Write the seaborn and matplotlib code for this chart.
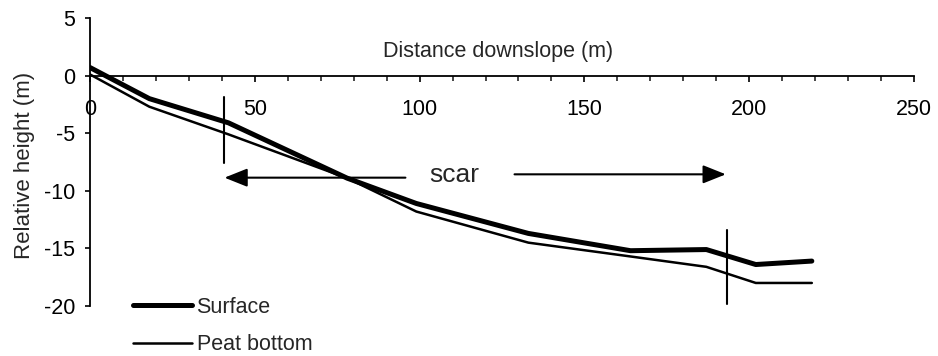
import matplotlib
matplotlib.use('Agg')
import matplotlib.pyplot as plt
import seaborn as sns
import pandas as pd
from matplotlib.ticker import MultipleLocator, FixedLocator

# ---- data ----
distance = [0, 18, 42, 78, 99, 133, 164, 187, 202, 219]
surface = [0.7, -2.0, -4.1, -8.9, -11.1, -13.7, -15.2, -15.1, -16.4, -16.1]
peat_bottom = [0.1, -2.7, -5.1, -8.9, -11.8, -14.5, -15.7, -16.6, -18.0, -18.0]
series_names = ["Surface", "Peat bottom"]
x_ticks = [0, 50, 100, 150, 200, 250]
y_ticks = [5, 0, -5, -10, -15, -20]
x_label = "Distance downslope (m)"
y_label = "Relative height (m)"
scar_label = "scar"
scar_start = 40.6
scar_end = 193.3

sns.set_style('ticks')
plt.rcParams['font.family'] = ['Liberation Sans', 'DejaVu Sans']
plt.rcParams['axes.unicode_minus'] = False

df = pd.DataFrame({'distance': distance, 'surface': surface, 'peat': peat_bottom})

fig = plt.figure(figsize=(9.38, 3.56), dpi=100)
ax = fig.add_axes([90/938, 1-306/356, 824/938, 288/356])

sns.lineplot(data=df, x='distance', y='surface', ax=ax, color='black', lw=3.6,
             label=series_names[0], sort=False, solid_capstyle='round')
sns.lineplot(data=df, x='distance', y='peat', ax=ax, color='black', lw=1.8,
             label=series_names[1], sort=False, solid_capstyle='round')

# scar boundary markers
ax.plot([scar_start, scar_start], [-1.83, -7.6], color='black', lw=1.5)
ax.plot([scar_end, scar_end], [-13.4, -19.8], color='black', lw=1.5)

# scar arrows and label
ap = dict(arrowstyle='-|>,head_length=1.0,head_width=0.4', color='black',
          lw=1.5, shrinkA=0, shrinkB=0, mutation_scale=14)
ax.annotate('', xy=(scar_start + 0.2, -8.86), xytext=(95.7, -8.86), arrowprops=ap)
ax.annotate('', xy=(scar_end - 0.4, -8.57), xytext=(128.8, -8.57), arrowprops=ap)
ax.text(110.6, -9.24, scar_label, ha='center', va='baseline', fontsize=19)

ax.set_xlim(0, 250)
ax.set_ylim(-20, 5)
ax.xaxis.set_major_locator(FixedLocator(x_ticks))
ax.xaxis.set_minor_locator(MultipleLocator(10))
ax.yaxis.set_major_locator(FixedLocator(y_ticks))

for s in ['top', 'right']:
    ax.spines[s].set_visible(False)
ax.spines['bottom'].set_position(('data', 0))
for s in ['left', 'bottom']:
    ax.spines[s].set_color('black')
    ax.spines[s].set_linewidth(1.3)

ax.tick_params(axis='x', which='major', direction='out', length=4, width=1.2,
               pad=13, labelsize=15.5, colors='black')
ax.tick_params(axis='x', which='minor', direction='out', length=3.5, width=1.2)
ax.tick_params(axis='y', which='major', direction='out', length=3.5, width=1.2,
               pad=7, labelsize=15.5, colors='black')

ax.set_xlabel(x_label, fontsize=15.5)
ax.xaxis.set_label_coords(0.495, (306 - 51.7) / 288)
ax.xaxis.label.set_va('center')
ax.set_ylabel(y_label, fontsize=16)
ax.yaxis.set_label_coords((25 - 90) / 824, (306 - 165) / 288)
ax.yaxis.label.set_va('center')

ax.legend(loc='upper left', bbox_to_anchor=(133/938, 1 - 297/356),
          bbox_transform=fig.transFigure, frameon=False, fontsize=15.5,
          handlelength=2.75, handletextpad=0.2, labelspacing=0.75,
          borderpad=0, borderaxespad=0)

fig.savefig('out.png', dpi=100, facecolor='white')
